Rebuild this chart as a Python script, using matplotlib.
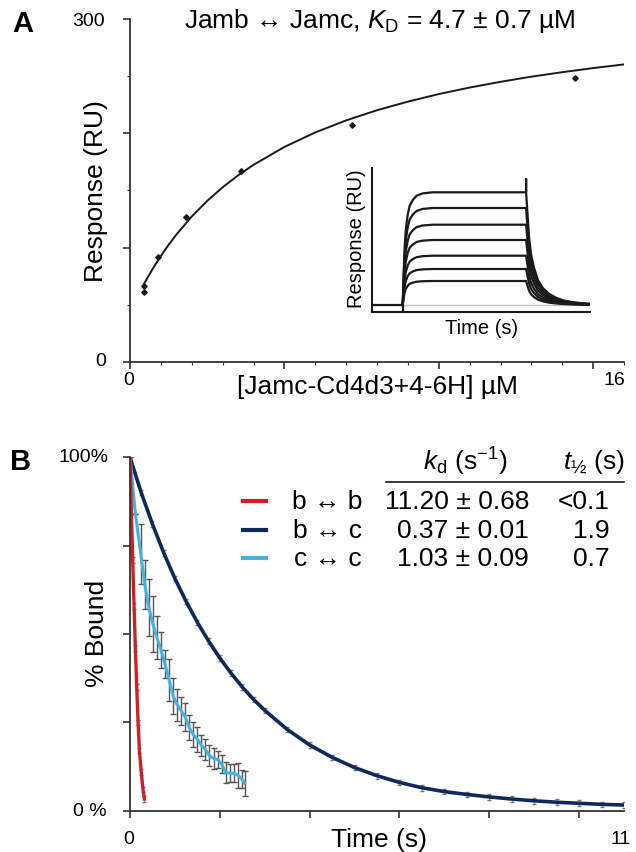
import matplotlib
matplotlib.use("Agg")
import matplotlib.pyplot as plt
from matplotlib.lines import Line2D

plt.rcParams['font.family'] = ['Liberation Sans', 'DejaVu Sans']
plt.rcParams['mathtext.fontset'] = 'custom'
plt.rcParams['mathtext.rm'] = 'Liberation Sans'
plt.rcParams['mathtext.it'] = 'Liberation Sans:italic'
plt.rcParams['mathtext.bf'] = 'Liberation Sans:bold'

# ---- Panel A: steady-state binding ----
conc = [0.45, 0.45, 0.9, 1.8, 3.6, 7.2, 14.4]
resp = [66, 61, 92, 127, 167, 207, 248]
fit_conc = [0.45, 0.6, 0.8, 1.0, 1.25, 1.5, 2.0, 2.5, 3.0, 3.5, 4.0, 5.0, 6.0,
            7.0, 8.0, 9.0, 10.0, 11.0, 12.0, 13.0, 14.0, 15.0, 16.0]
fit_resp = [68.0, 75.2, 84.2, 92.6, 102.3, 111.2, 127.1, 140.7, 152.6, 163.0, 172.2,
            187.8, 200.5, 211.0, 219.9, 227.4, 234.0, 239.7, 244.7, 249.2, 253.1,
            256.7, 259.9]

# inset sensorgrams (arbitrary units)
inset_levels = [112.7, 97, 80.3, 65, 49.3, 36, 24]
inj_on, inj_off, t_end = 31, 155.5, 220
assoc_dt = [0, 1, 2, 3, 5, 7, 10, 14, 20, 30, 124.5]
assoc_frac = [0, 0.3, 0.52, 0.66, 0.8, 0.88, 0.93, 0.97, 0.99, 1.0, 1.0]
dissoc_dt = [0, 1.5, 3, 5, 8, 12, 17, 23, 30, 38, 47, 57, 64.5]
dissoc_frac = [1, 0.8, 0.6, 0.45, 0.33, 0.22, 0.15, 0.1, 0.065, 0.04, 0.025, 0.015, 0.01]
spike_top = 126
base_t = [0, inj_on, inj_on]
base_y = [0, 0, -7]

# ---- Panel B: dissociation ----
t_bb = [0, 0.03, 0.06, 0.09, 0.12, 0.15, 0.18, 0.21, 0.25, 0.29, 0.32]
p_bb = [100, 85, 71, 58, 46, 35, 25, 17, 11, 6, 3.3]
t_bc = [0, 0.25, 0.5, 0.75, 1.0, 1.25, 1.5, 1.75, 2.0, 2.25, 2.5, 2.75, 3.0, 3.5,
        4.0, 4.5, 5.0, 5.5, 6.0, 6.5, 7.0, 7.5, 8.0, 8.5, 9.0, 9.5, 10.0, 10.5, 11.0]
p_bc = [100, 90.0, 81.1, 73.0, 65.7, 59.2, 53.3, 48.0, 43.2, 38.9, 35.0, 31.5, 28.4,
        23.0, 18.6, 15.1, 12.2, 9.9, 8.0, 6.5, 5.4, 4.6, 3.9, 3.3, 2.8, 2.4, 2.1, 1.8, 1.6]
t_cc = [0, 0.12, 0.24, 0.33, 0.42, 0.51, 0.6, 0.69, 0.78, 0.87, 0.96, 1.05, 1.14, 1.23,
        1.32, 1.41, 1.5, 1.59, 1.68, 1.77, 1.86, 1.95, 2.04, 2.13, 2.22, 2.31, 2.4, 2.49, 2.55]
p_cc = [100, 84, 72.7, 64, 57.5, 52.8, 49, 45.5, 41.5, 37, 32.5, 30, 28.3, 26.5,
        23.5, 21.5, 20.2, 18.5, 17.3, 15.6, 14.8, 14.5, 13.2, 10.9, 10.6, 10.6, 10.0, 9.0, 7.8]
e_cc = [0, 0, 8.5, 7, 8, 8, 6, 5, 4, 6, 5, 4.5, 4, 4, 3.5, 3.5, 3.5, 3, 3, 3, 3, 2.5,
        2.5, 3, 2.5, 2.5, 3.5, 2.5, 3.5]

pairs = ['b \u2194 b', 'b \u2194 c', 'c \u2194 c']
kd_txt = ['11.20 \u00b1 0.68', '0.37 \u00b1 0.01', '1.03 \u00b1 0.09']
thalf_txt = ['<0.1', '1.9', '0.7']
colors = ['#d21f26', '#0e2a5c', '#45b4dd']

W, H = 636, 853
def fx(x):
    return x / W
def fy(y):
    return 1 - y / H

fig = plt.figure(figsize=(W / 100, H / 100), dpi=100)
ink = '#1a1a1a'

# ---------- A ----------
axA = fig.add_axes([fx(130), fy(363), (624 - 130) / W, (363 - 19.5) / H])
axA.plot(fit_conc, fit_resp, color=ink, lw=1.4)
axA.plot(conc, resp, 'D', color=ink, ms=2.8)
axA.set_xlim(0, 16)
axA.set_ylim(0, 300)
axA.set_xticks([0, 5, 10, 15])
axA.set_xticks(range(0, 17), minor=True)
axA.set_yticks([0, 100, 200, 300])
axA.set_yticks(range(0, 301, 50), minor=True)
axA.set_xticklabels([])
axA.set_yticklabels([])
axA.tick_params(which='major', length=5, width=1.2, color='#333333')
axA.tick_params(which='minor', length=2.5, width=0.8, color='#333333')
for s in ['top', 'right']:
    axA.spines[s].set_visible(False)
for s in ['left', 'bottom']:
    axA.spines[s].set_linewidth(1.3)
    axA.spines[s].set_color('#333333')

fig.text(fx(23), fy(24), 'A', fontsize=21, fontweight='bold', ha='center', va='center')
fig.text(fx(105), fy(21), '300', fontsize=14, ha='right', va='center')
fig.text(fx(106), fy(362), '0', fontsize=14, ha='right', va='center')
fig.text(fx(129), fy(381), '0', fontsize=14, ha='center', va='center')
fig.text(fx(614), fy(381), '16', fontsize=14, ha='center', va='center')
fig.text(fx(377), fy(387), '[Jamc-Cd4d3+4-6H] \u00b5M', fontsize=19, ha='center', va='center')
fig.text(fx(96), fy(191), 'Response (RU)', fontsize=19, rotation=90, ha='center', va='center')
fig.text(fx(380), fy(21), 'Jamb \u2194 Jamc, $K_{\\mathrm{D}}$ = 4.7 \u00b1 0.7 \u00b5M',
         fontsize=19, ha='center', va='center')

# inset
axI = fig.add_axes([fx(372), fy(313), 218 / W, 144 / H])
axI.set_xlim(0, t_end)
axI.set_ylim(-7, 137)
axI.plot([inj_on, t_end], [0, 0], color='#c0c0c0', lw=1.0)
axI.plot(base_t, base_y, color=ink, lw=1.6)
for i, lev in enumerate(inset_levels):
    xs = [inj_on + d for d in assoc_dt]
    ys = [lev * f for f in assoc_frac]
    if i == 0:
        xs += [inj_off]
        ys += [spike_top]
    xs += [inj_off + d for d in dissoc_dt]
    ys += [lev * f for f in dissoc_frac]
    axI.plot(xs, ys, color=ink, lw=1.6)
axI.set_xticks([])
axI.set_yticks([])
for s in ['top', 'right']:
    axI.spines[s].set_visible(False)
for s in ['left', 'bottom']:
    axI.spines[s].set_linewidth(1.5)
    axI.spines[s].set_color(ink)
fig.text(fx(357), fy(239), 'Response (RU)', fontsize=14.5, rotation=90, ha='center', va='center')
fig.text(fx(482), fy(328), 'Time (s)', fontsize=14.5, ha='center', va='center')

# ---------- B ----------
axB = fig.add_axes([fx(130), fy(811.7), (624 - 130) / W, (811.7 - 458.3) / H])
axB.errorbar(t_bc, p_bc, yerr=0.8, fmt='none', ecolor='#777777', elinewidth=0.6, capsize=1.5)
axB.errorbar(t_bb, p_bb, yerr=0.8, fmt='none', ecolor='#777777', elinewidth=0.6, capsize=1.5)
axB.errorbar(t_cc, p_cc, yerr=e_cc, fmt='none', ecolor='#555555', elinewidth=1.0,
             capsize=2.5, capthick=1.0)
axB.plot(t_bc, p_bc, color=colors[1], lw=2.6)
axB.plot(t_cc, p_cc, color=colors[2], lw=2.2)
axB.plot(t_bb, p_bb, color=colors[0], lw=2.4)
axB.set_xlim(0, 11)
axB.set_ylim(0, 100)
axB.set_xticks([0, 2, 4, 6, 8, 10])
axB.set_yticks([0, 25, 50, 75, 100])
axB.set_xticklabels([])
axB.set_yticklabels([])
axB.tick_params(length=5, width=1.2, color='#333333')
for s in ['top', 'right']:
    axB.spines[s].set_visible(False)
for s in ['left', 'bottom']:
    axB.spines[s].set_linewidth(1.3)
    axB.spines[s].set_color('#333333')

fig.text(fx(21), fy(462), 'B', fontsize=21, fontweight='bold', ha='center', va='center')
fig.text(fx(108), fy(458), '100%', fontsize=14, ha='right', va='center')
fig.text(fx(107), fy(812), '0 %', fontsize=14, ha='right', va='center')
fig.text(fx(129), fy(840), '0', fontsize=14, ha='center', va='center')
fig.text(fx(621), fy(840), '11', fontsize=14, ha='center', va='center')
fig.text(fx(379), fy(840), 'Time (s)', fontsize=19, ha='center', va='center')
fig.text(fx(97), fy(633), '% Bound', fontsize=19, rotation=90, ha='center', va='center')

# kinetics table / legend
fig.text(fx(465), fy(462), '$k_{\\mathrm{d}}$ (s$^{\\mathrm{-1}}$)', fontsize=19, ha='center', va='center')
fig.text(fx(594), fy(462), '$t_{\u00bd}$ (s)', fontsize=19, ha='center', va='center')
fig.add_artist(Line2D([fx(386), fx(624)], [fy(483), fy(483)], color=ink, lw=1.2))
row_y = [502, 531, 559]
for i in range(3):
    fig.add_artist(Line2D([fx(243), fx(266)], [fy(row_y[i]), fy(row_y[i])],
                          color=colors[i], lw=3))
    fig.text(fx(362), fy(row_y[i]), pairs[i], fontsize=19, ha='right', va='center')
    fig.text(fx(529), fy(row_y[i]), kd_txt[i], fontsize=19, ha='right', va='center')
    fig.text(fx(610), fy(row_y[i]), thalf_txt[i], fontsize=19, ha='right', va='center')

fig.savefig('out.png', dpi=100)
